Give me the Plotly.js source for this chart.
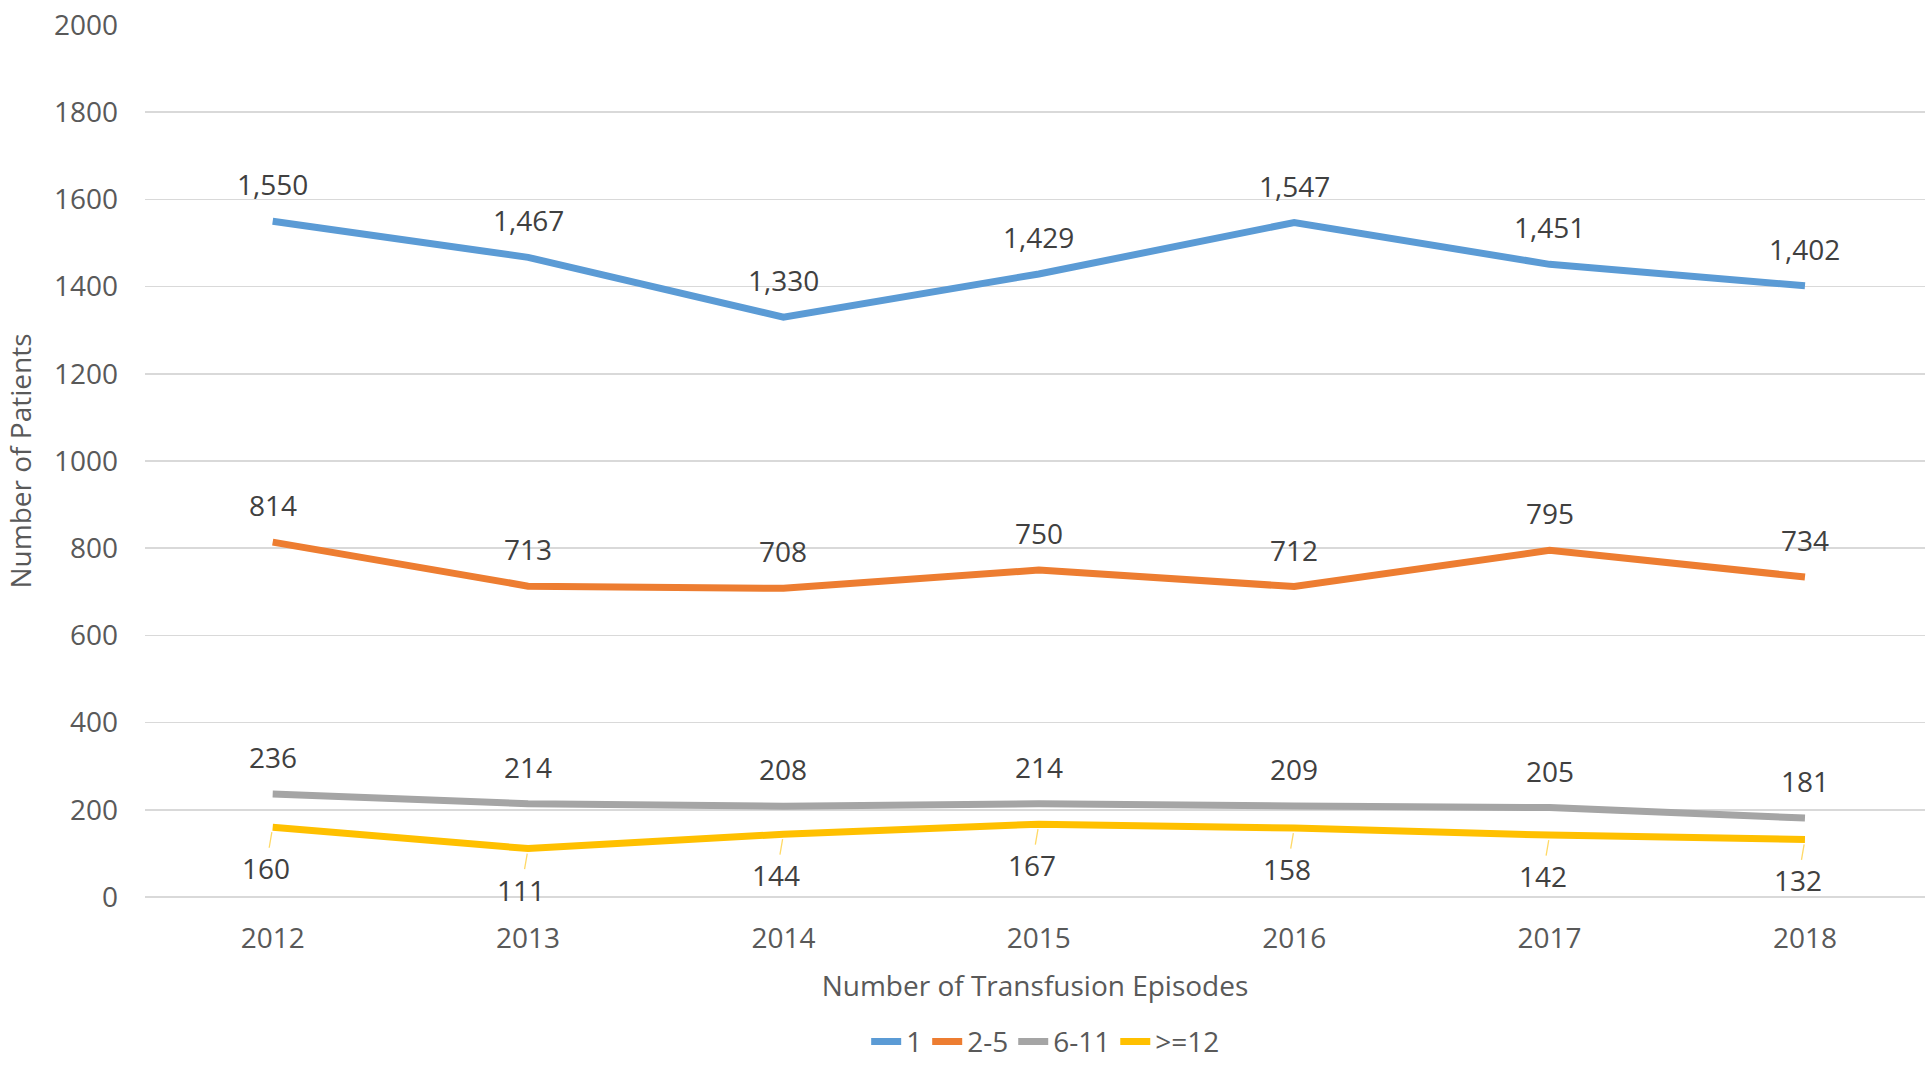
<!DOCTYPE html>
<html>
<head>
<meta charset="utf-8">
<script src="https://cdn.plot.ly/plotly-3.0.1.min.js"></script>
<style>html,body{margin:0;padding:0;background:#fff;}#chart{width:1925px;height:1068px;}</style>
</head>
<body>
<div id="chart"></div>
<script>
const years = ["2012", "2013", "2014", "2015", "2016", "2017", "2018"];
const seriesNames = ["1", "2-5", "6-11", ">=12"];
const ep1 = [1550, 1467, 1330, 1429, 1547, 1451, 1402];
const ep2to5 = [814, 713, 708, 750, 712, 795, 734];
const ep6to11 = [236, 214, 208, 214, 209, 205, 181];
const ep12plus = [160, 111, 144, 167, 158, 142, 132];
const yTicks = [0, 200, 400, 600, 800, 1000, 1200, 1400, 1600, 1800, 2000];

const colors = ["#5B9BD5", "#ED7D31", "#A5A5A5", "#FFC000"];
const allSeries = [ep1, ep2to5, ep6to11, ep12plus];
const FONT = "'Open Sans', sans-serif";
const FS = 28;

const traces = allSeries.map((vals, i) => ({
  type: "scatter",
  mode: "lines",
  x: years,
  y: vals,
  name: seriesNames[i],
  line: {color: colors[i], width: 7},
  hoverinfo: "x+y+name"
}));

const fmt = v => String(v).replace(/\B(?=(\d{3})+(?!\d))/g, ",");
const annotations = [];
allSeries.forEach((vals, i) => {
  vals.forEach((v, j) => {
    if (i < 3) {
      annotations.push({
        x: j, y: v, xref: "x", yref: "y",
        text: fmt(v), showarrow: false, yshift: 37,
        font: {family: FONT, size: FS, color: "#404040"}
      });
    } else {
      annotations.push({
        x: j, y: v, xref: "x", yref: "y",
        text: fmt(v), showarrow: true, arrowhead: 0, arrowwidth: 1.3,
        arrowcolor: "#FFD966", ax: -7, ay: 41, standoff: 5,
        font: {family: FONT, size: FS, color: "#404040"}
      });
    }
  });
});

const layout = {
  width: 1925, height: 1068,
  margin: {l: 145, r: 0, t: 25, b: 171, autoexpand: false},
  paper_bgcolor: "#ffffff", plot_bgcolor: "#ffffff",
  font: {family: FONT, size: FS, color: "#595959"},
  xaxis: {
    type: "category",
    range: [-0.5, 6.47],
    automargin: false,
    showgrid: false, zeroline: false, showline: false,
    ticks: "", ticklabelstandoff: 22,
    tickfont: {family: FONT, size: FS, color: "#595959"},
    title: {text: "Number of Transfusion Episodes", font: {family: FONT, size: FS, color: "#595959"}, standoff: 21}
  },
  yaxis: {
    range: [0, 2000],
    automargin: false,
    tickvals: yTicks, ticktext: yTicks.map(String),
    showgrid: true, gridcolor: "#D9D9D9", gridwidth: 1.5,
    zeroline: true, zerolinecolor: "#D9D9D9", zerolinewidth: 1.5,
    showline: false, ticks: "", ticklabelstandoff: 26,
    tickfont: {family: FONT, size: FS, color: "#595959"},
    title: {text: "Number of Patients", font: {family: FONT, size: FS, color: "#595959"}, standoff: 14}
  },
  showlegend: true,
  legend: {
    orientation: "h", x: 0.506, xanchor: "center", y: -0.166, yanchor: "middle",
    font: {family: FONT, size: FS, color: "#595959"}
  },
  annotations: annotations
};

Plotly.newPlot("chart", traces, layout, {displayModeBar: false, staticPlot: true});
</script>
</body>
</html>
